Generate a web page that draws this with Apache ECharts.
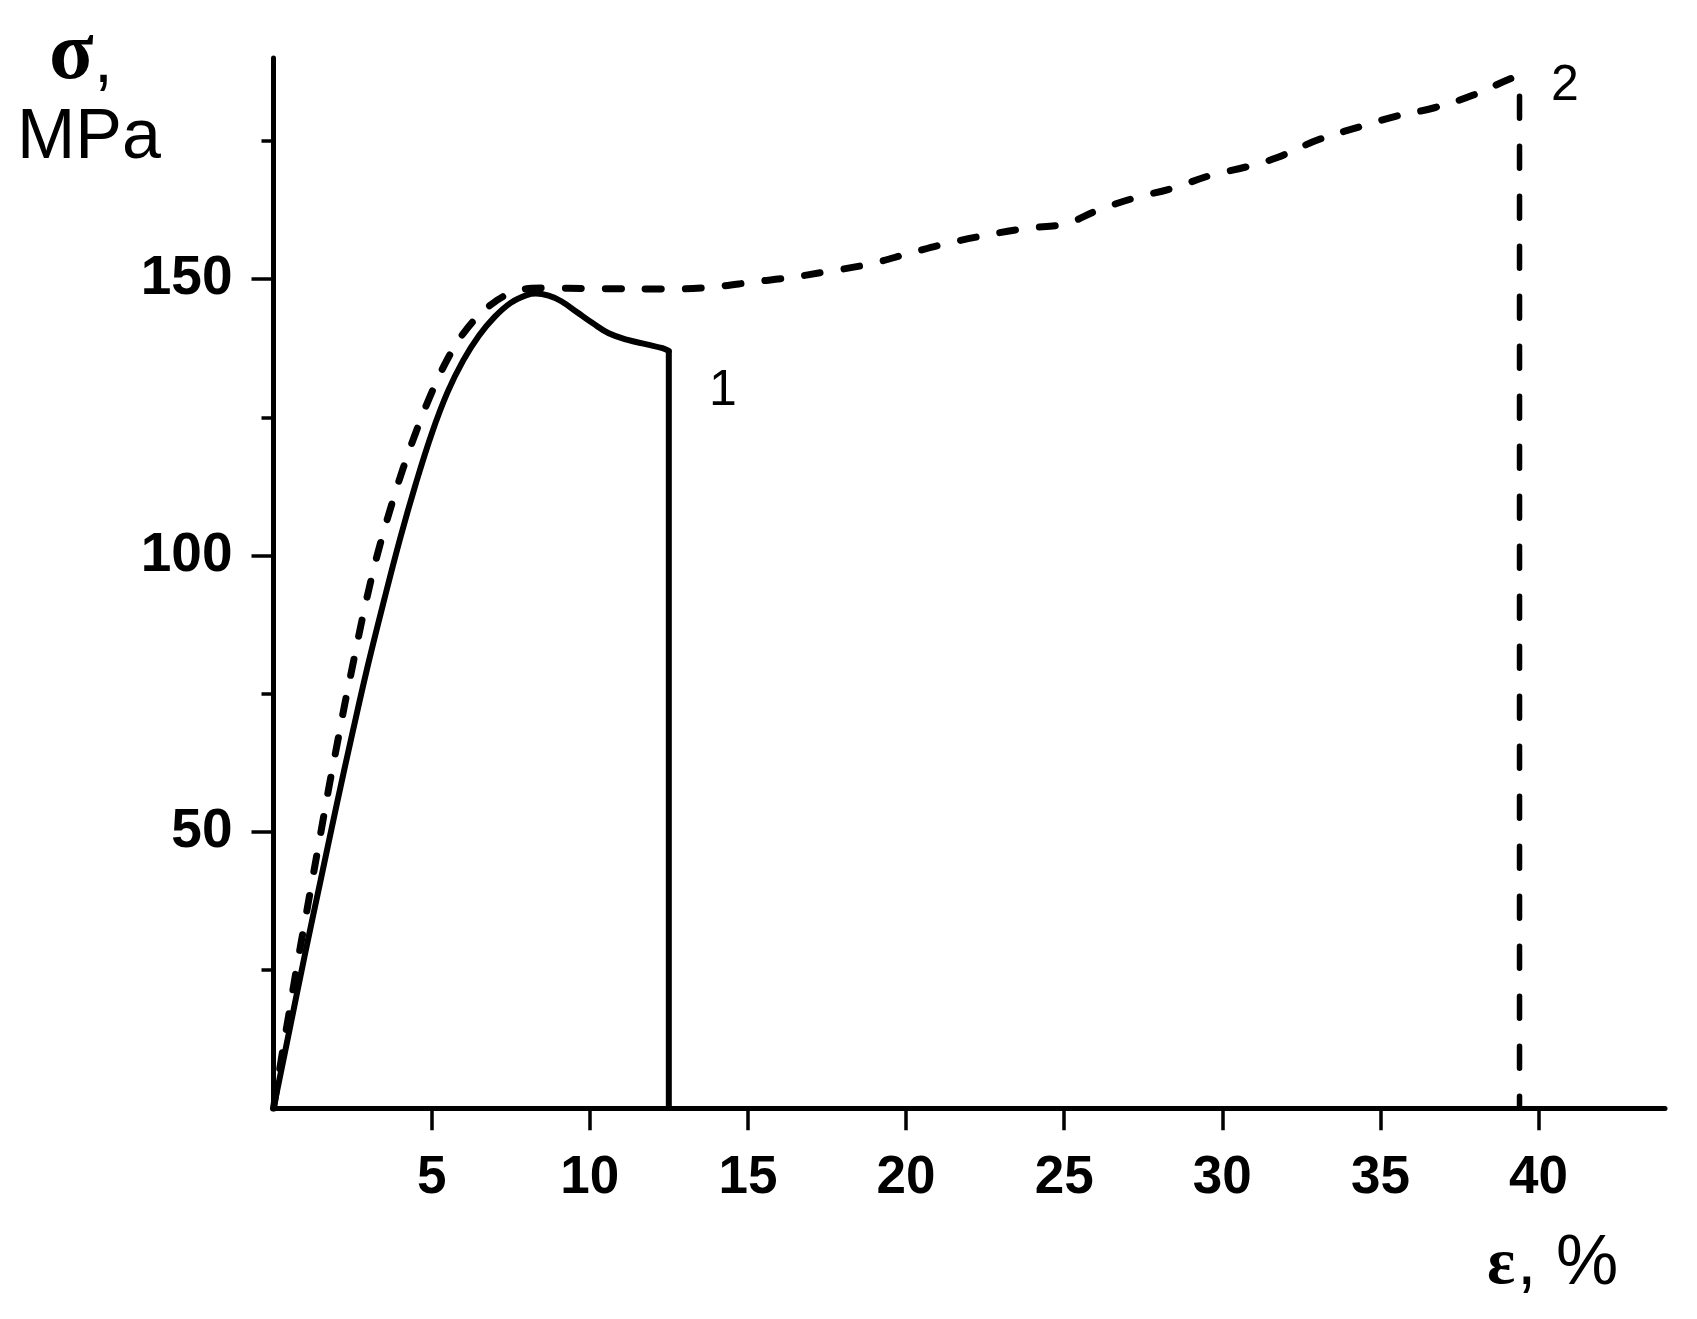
<!DOCTYPE html>
<html>
<head>
<meta charset="utf-8">
<script src="https://cdn.jsdelivr.net/npm/echarts@6/dist/echarts.min.js"></script>
<style>
  html, body { margin: 0; padding: 0; background: #fff; }
  #chart { width: 1697px; height: 1319px; }
</style>
</head>
<body>
<div id="chart"></div>
<script>
// ---- data ----
const strain1 = [0, 0.5, 1.0, 1.5, 2.0, 2.5, 3.0, 3.5, 4.0, 4.5, 5.0, 5.5, 6.0, 6.5, 7.0, 7.5, 8.0, 8.3, 8.7, 9.1, 9.6, 10.1, 10.6, 11.2, 11.8, 12.3, 12.5];
const stress1 = [0, 14, 28, 41.5, 55, 68, 80.5, 92, 103, 113, 122, 129.5, 135.3, 139.8, 143.2, 145.7, 147.1, 147.4, 147, 146, 144, 142, 140.2, 139, 138.2, 137.5, 137];
const breakStrain1 = [12.5, 12.5];
const breakStress1 = [137, 0];

const strain2 = [0, 0.25, 0.5, 0.75, 1.0, 1.25, 1.5, 1.75, 2.0, 2.25, 2.5, 2.75, 3.0, 3.3, 3.75, 4.1, 4.45, 4.93, 5.5, 6.06, 6.86, 7.72, 8.54, 10.1, 12.6, 13.93, 15.19, 16.36, 17.43, 18.83, 20.19, 21.26, 22.58, 23.83, 25.03, 26.09, 27.18, 28.41, 29.65, 30.76, 31.74, 33.03, 34.38, 35.51, 36.71, 37.94, 39.13, 39.4];
const stress2 = [0, 9, 17.5, 26, 34, 42, 50, 58, 65.5, 73, 80, 87, 93.5, 100.5, 109.5, 115.8, 121.5, 128.5, 135.5, 140.6, 145.3, 147.9, 148.4, 148.3, 148.2, 148.6, 149.5, 150.3, 151.3, 152.7, 154.8, 156.4, 158, 159.2, 160, 162.5, 164.6, 166.4, 168.8, 170.3, 172, 175.2, 177.6, 179.5, 181, 183.3, 186.3, 186.7];
const breakStrain2 = [39.4, 39.4];
const breakStress2 = [186.7, 0];

const xTickValues = [5, 10, 15, 20, 25, 30, 35, 40];
const yMajorTicks = [50, 100, 150];
const yMinorTicks = [25, 75, 125, 175];
const curveLabels = ['1', '2'];

const zip = (xs, ys) => xs.map((x, i) => [x, ys[i]]);

const chart = echarts.init(document.getElementById('chart'), null, { renderer: 'canvas' });

const SANS = 'Liberation Sans, Arial, sans-serif';
const SERIF = 'Liberation Serif, Times New Roman, serif';

const option = {
  animation: false,
  backgroundColor: '#ffffff',
  grid: { left: 273.5, right: 32, top: 58, bottom: 210.7 },
  xAxis: {
    type: 'value',
    min: 0, max: 44, interval: 5,
    axisLine: { show: true, onZero: false, lineStyle: { color: '#000', width: 5 } },
    axisTick: { show: true, length: 22, customValues: xTickValues, lineStyle: { color: '#000', width: 3.5 } },
    axisLabel: { customValues: xTickValues, margin: 44, fontSize: 53, fontWeight: 'bold', fontFamily: SANS, color: '#000' },
    splitLine: { show: false }
  },
  yAxis: [
    {
      type: 'value', position: 'left',
      min: 0, max: 190, interval: 50,
      axisLine: { show: true, onZero: false, lineStyle: { color: '#000', width: 5 } },
      axisTick: { show: true, length: 22, customValues: yMajorTicks, lineStyle: { color: '#000', width: 3.5 } },
      axisLabel: { customValues: yMajorTicks, margin: 41, fontSize: 55, fontWeight: 'bold', fontFamily: SANS, color: '#000' },
      splitLine: { show: false }
    },
    {
      type: 'value', position: 'left', offset: 0,
      min: 0, max: 190, interval: 25,
      axisLine: { show: false },
      axisTick: { show: true, length: 12, customValues: yMinorTicks, lineStyle: { color: '#000', width: 3.5 } },
      axisLabel: { show: false },
      splitLine: { show: false }
    }
  ],
  series: [
    {
      type: 'line', name: curveLabels[0], yAxisIndex: 0,
      data: zip(strain1, stress1),
      smooth: 0.4, showSymbol: false, symbol: 'none',
      lineStyle: { color: '#000', width: 6, cap: 'round', join: 'round' }
    },
    {
      type: 'line', yAxisIndex: 0,
      data: zip(breakStrain1, breakStress1),
      showSymbol: false, symbol: 'none',
      lineStyle: { color: '#000', width: 6, join: 'round' }
    },
    {
      type: 'line', name: curveLabels[1], yAxisIndex: 0,
      data: zip(strain2, stress2),
      smooth: 0.4, showSymbol: false, symbol: 'none',
      lineStyle: { color: '#000', width: 7, type: [16, 24], cap: 'round', join: 'round' }
    },
    {
      type: 'line', yAxisIndex: 0,
      data: zip(breakStrain2, breakStress2),
      showSymbol: false, symbol: 'none',
      lineStyle: { color: '#000', width: 5.5, type: [22, 28], dashOffset: -20, cap: 'round' }
    }
  ],
  graphic: [
    { type: 'text', left: 49, top: 16, style: { text: 'σ', font: 'bold 82px ' + SERIF, fill: '#000' } },
    { type: 'text', left: 94, top: 29, style: { text: ',', font: '68px ' + SANS, fill: '#000' } },
    { type: 'text', left: 17, top: 104, style: { text: 'MPa', font: '70px ' + SANS, fill: '#000' } },
    { type: 'text', left: 1487, top: 1233, style: { text: 'ε', font: 'bold 66px ' + SERIF, fill: '#000' } },
    { type: 'text', left: 1517, top: 1230, style: { text: ', %', font: '70px ' + SANS, fill: '#000' } },
    { type: 'text', left: 709, top: 366, style: { text: curveLabels[0], font: '50px ' + SANS, fill: '#000' } },
    { type: 'text', left: 1551, top: 61, style: { text: curveLabels[1], font: '50px ' + SANS, fill: '#000' } }
  ]
};

chart.setOption(option);
</script>
</body>
</html>
